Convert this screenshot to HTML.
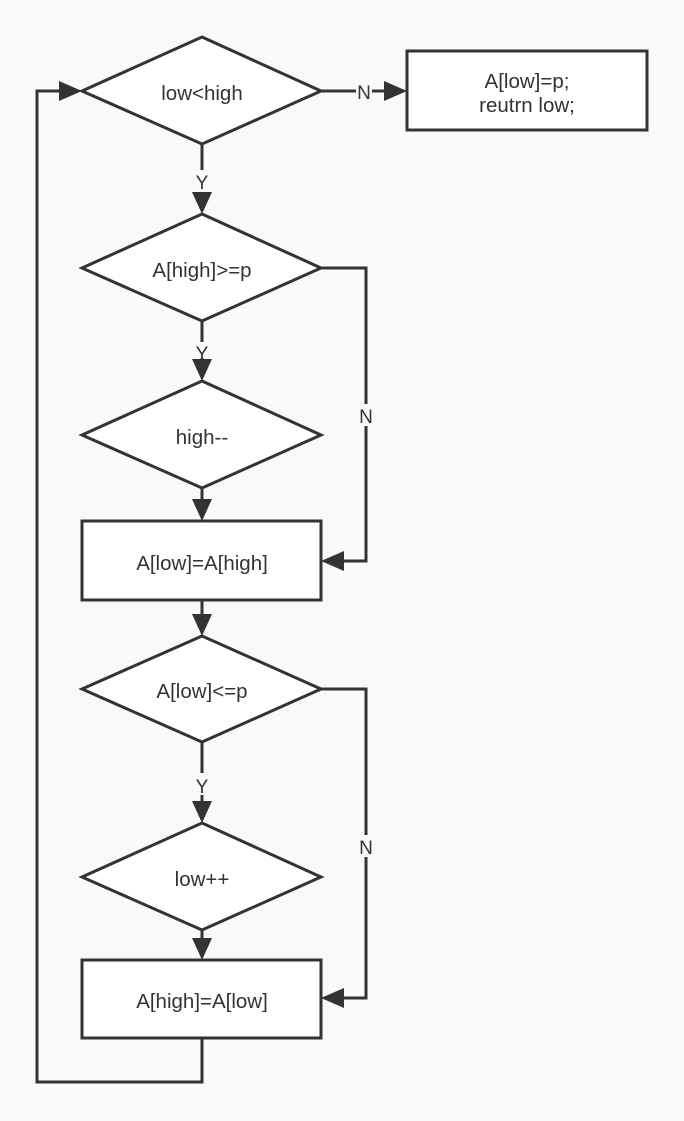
<!DOCTYPE html>
<html><head><meta charset="utf-8"><style>
html,body{margin:0;padding:0;background:#f9f9f9;}
svg{display:block;}
text{font-family:"Liberation Sans",sans-serif;fill:#333;}
</style></head><body>
<svg width="684" height="1121" viewBox="0 0 684 1121" xmlns="http://www.w3.org/2000/svg">
<g stroke="#333" stroke-width="3" fill="none">
<line x1="321" y1="91" x2="386" y2="91"/>
<line x1="202" y1="144" x2="202" y2="194"/>
<line x1="202" y1="321" x2="202" y2="362"/>
<line x1="202" y1="488" x2="202" y2="502"/>
<polyline points="321,268 366,268 366,561 342,561"/>
<line x1="202" y1="600" x2="202" y2="617"/>
<line x1="202" y1="742" x2="202" y2="804"/>
<line x1="202" y1="930" x2="202" y2="941"/>
<polyline points="321,689 366,689 366,998 342,998"/>
<polyline points="202,1038 202,1082 37,1082 37,91 62,91"/>
<polygon points="202,37 321,91 202,144 82,91" fill="#fff"/>
<rect x="407" y="51" width="240" height="79" fill="#fff"/>
<polygon points="202,214 321,268 202,321 82,268" fill="#fff"/>
<polygon points="202,381 321,435 202,488 82,435" fill="#fff"/>
<rect x="82" y="521" width="239" height="79" fill="#fff"/>
<polygon points="202,636 321,689 202,742 82,689" fill="#fff"/>
<polygon points="202,823 321,877 202,930 82,877" fill="#fff"/>
<rect x="82" y="960" width="239" height="78" fill="#fff"/>
</g>
<g fill="#333">
<polygon points="407,91 384,81 384,101"/>
<polygon points="202,214 192,192 212,192"/>
<polygon points="202,381 192,359 212,359"/>
<polygon points="202,521 192,499 212,499"/>
<polygon points="321,561 344,551 344,571"/>
<polygon points="202,636 192,614 212,614"/>
<polygon points="202,823 192,801 212,801"/>
<polygon points="202,960 192,938 212,938"/>
<polygon points="321,998 344,988 344,1008"/>
<polygon points="82,91 59,81 59,101"/>
</g>
<g fill="#f9f9f9">
<rect x="356" y="80" width="16" height="22"/>
<rect x="194" y="170" width="16" height="22"/>
<rect x="194" y="342" width="16" height="16"/>
<rect x="357" y="404" width="16" height="22"/>
<rect x="194" y="773" width="16" height="22"/>
<rect x="357" y="835" width="16" height="22"/>
</g>
<g font-size="20.5" text-anchor="middle">
<text x="202" y="100">low&lt;high</text>
<text x="527" y="88">A[low]=p;</text>
<text x="527" y="112">reutrn low;</text>
<text x="202" y="277">A[high]&gt;=p</text>
<text x="202" y="444">high--</text>
<text x="202" y="570">A[low]=A[high]</text>
<text x="202" y="698">A[low]&lt;=p</text>
<text x="202" y="886">low++</text>
<text x="202" y="1008">A[high]=A[low]</text>
</g>
<g font-size="19" text-anchor="middle">
<text x="364" y="99">N</text>
<text x="202" y="189">Y</text>
<text x="202" y="360">Y</text>
<text x="366" y="423">N</text>
<text x="202" y="793">Y</text>
<text x="366" y="854">N</text>
</g>
</svg>
</body></html>
